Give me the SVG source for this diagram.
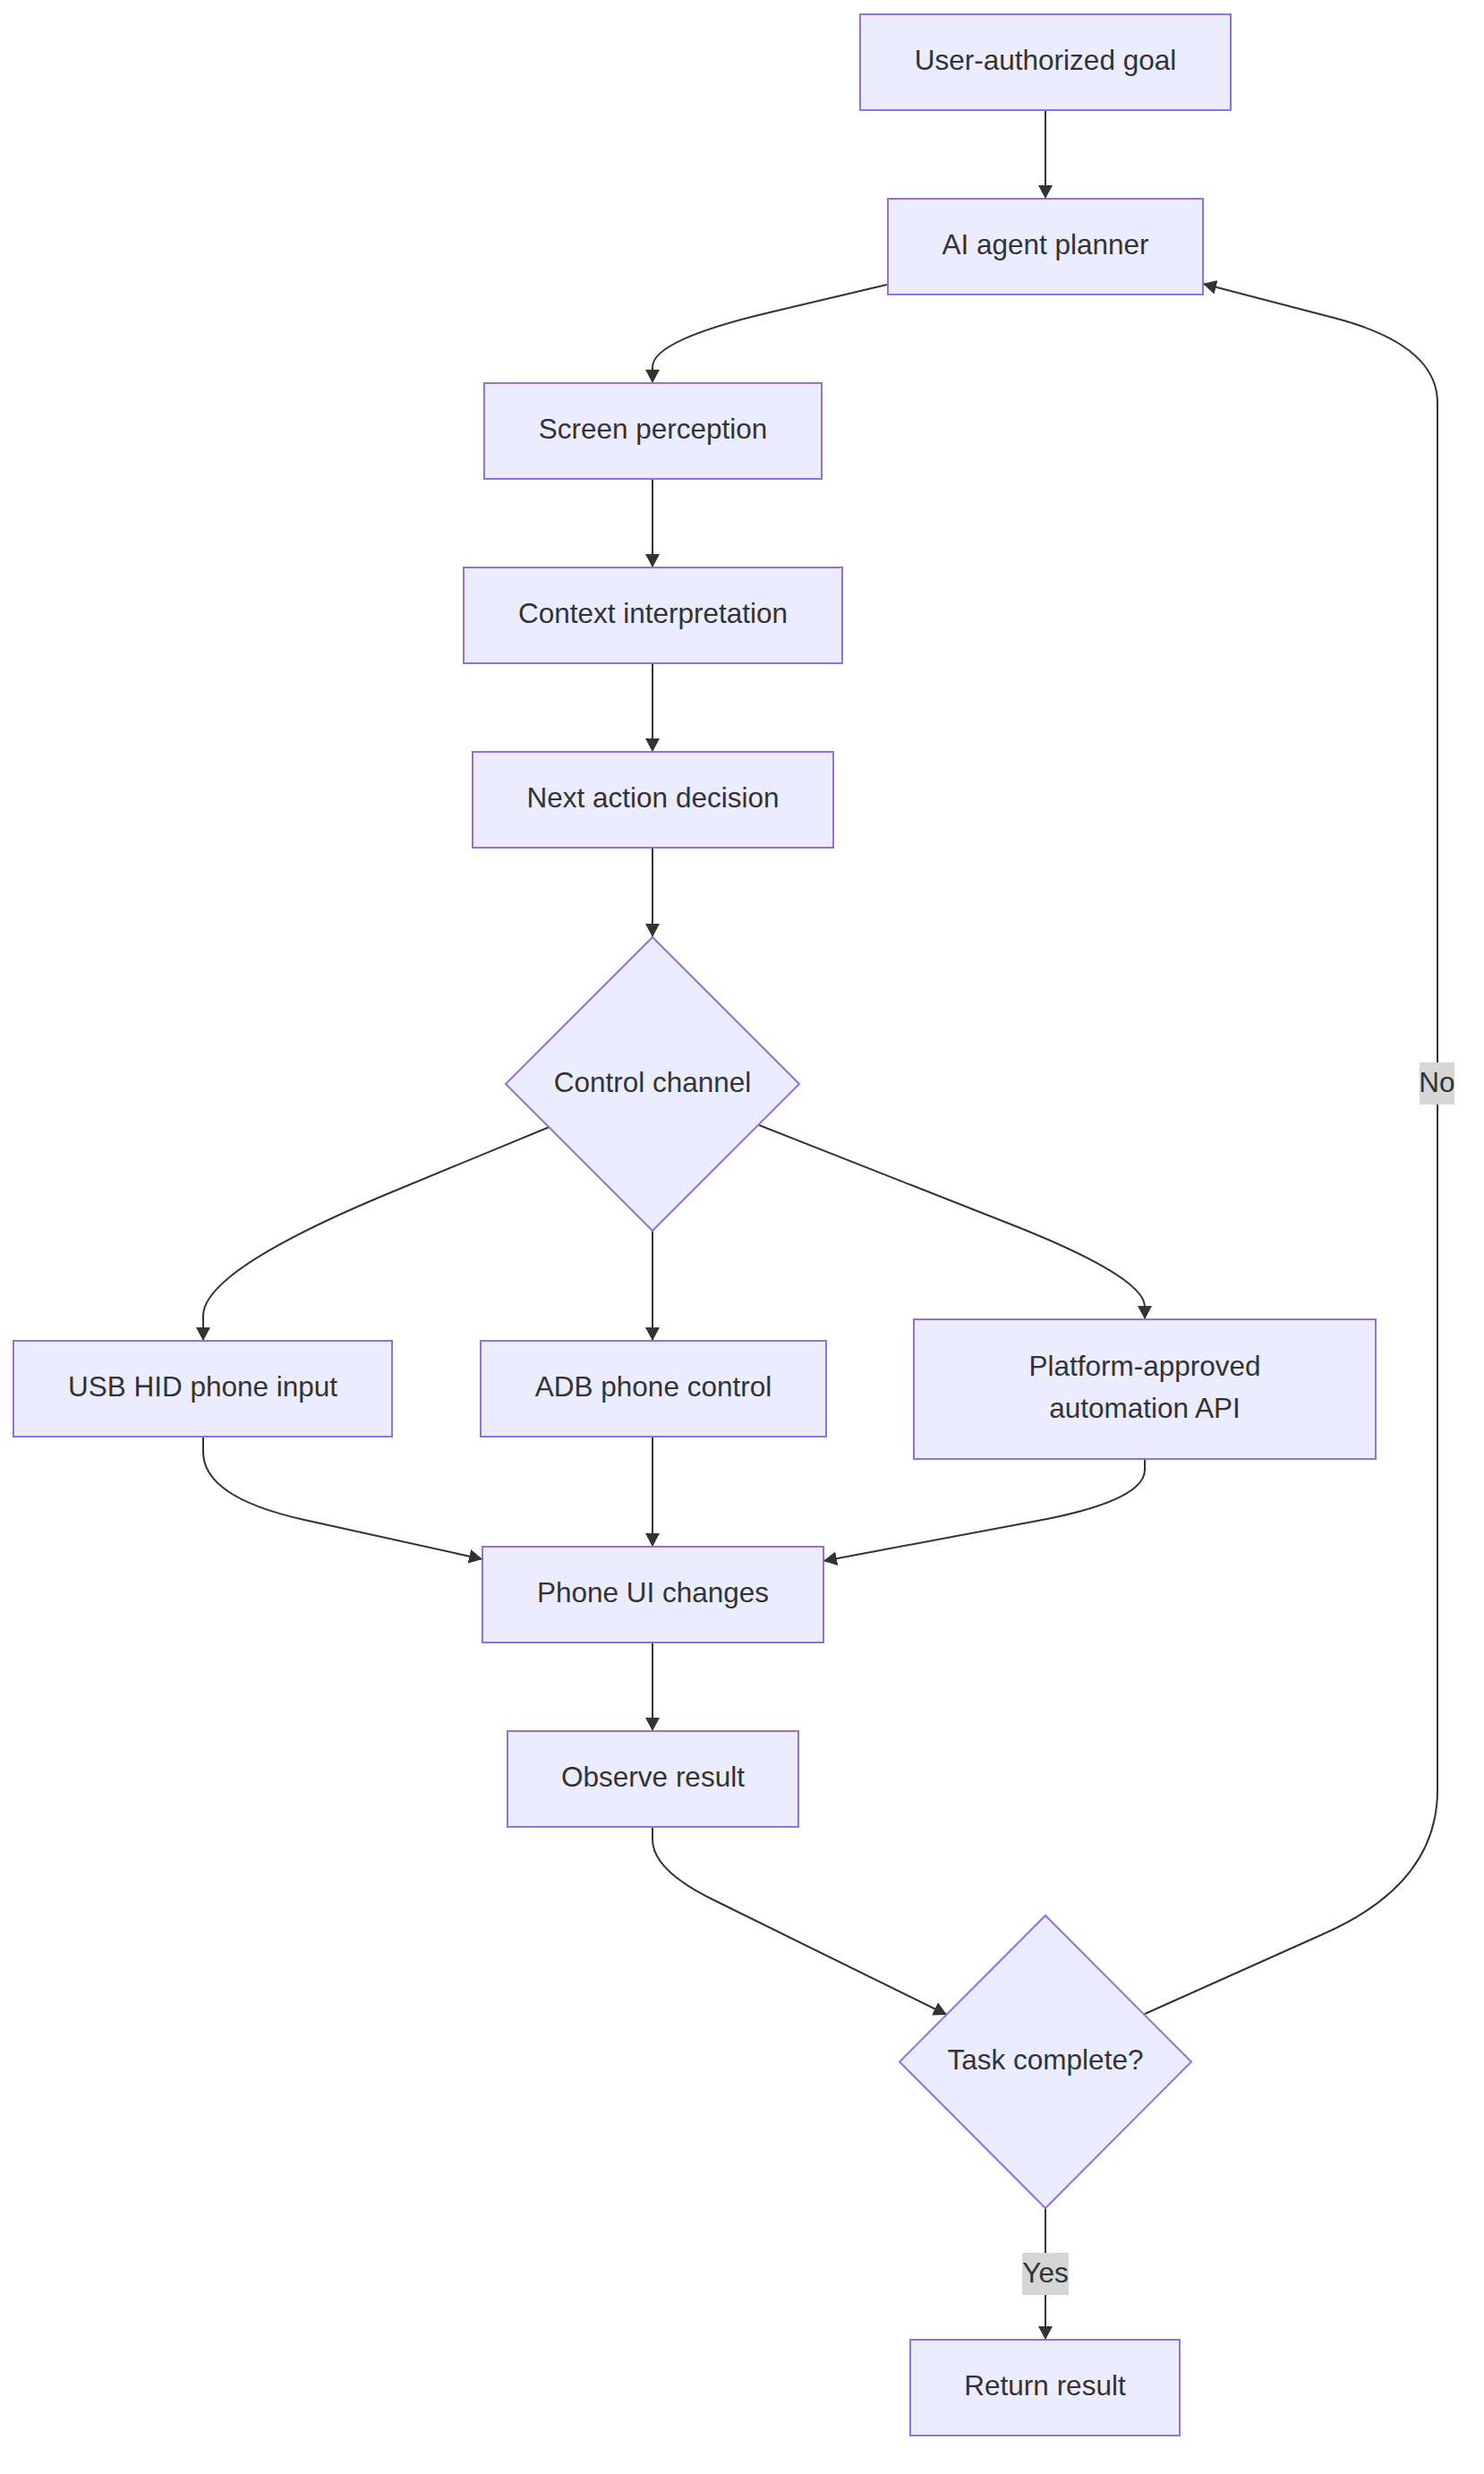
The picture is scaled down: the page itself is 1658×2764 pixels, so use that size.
<svg xmlns="http://www.w3.org/2000/svg" width="1658" height="2764" viewBox="0 0 1658 2764">
<style>
.node rect,.node polygon{fill:#ECECFF;stroke:#9370DB;stroke-width:2}
.node text,.lbl text{font-family:"Liberation Sans",Arial,sans-serif;font-size:31.5px;fill:#333333;text-anchor:middle}
.edge{fill:none;stroke:#333333;stroke-width:2;marker-end:url(#arr)}
.lbl rect{fill:#d6d6d6}
</style>
<defs>
<marker id="arr" markerUnits="userSpaceOnUse" markerWidth="16" markerHeight="16" refX="15" refY="8" orient="auto">
<path d="M0,0 L15,8 L0,16 z" fill="#333333"/>
</marker>
</defs>
<rect width="1658" height="2764" fill="#ffffff"/>
<g id="connectors">
<path class="edge" d="M1168,123 L1168,222"/>
<path class="edge" d="M991,318 L860,349 Q729,380 729,410 L729,428"/>
<path class="edge" d="M729,535 L729,634"/>
<path class="edge" d="M729,741 L729,840"/>
<path class="edge" d="M729,947 L729,1047"/>
<path class="edge" d="M614,1259 L430,1335 Q227,1420 227,1470 L227,1498"/>
<path class="edge" d="M729,1375 L729,1498"/>
<path class="edge" d="M848,1257 L1140,1372 Q1279,1428 1279,1460 L1279,1474"/>
<path class="edge" d="M227,1606 L227,1622 Q227,1673 340,1698 L539,1742"/>
<path class="edge" d="M729,1606 L729,1728"/>
<path class="edge" d="M1279,1630 L1279,1642 Q1279,1675 1170,1697 L920,1744"/>
<path class="edge" d="M729,1836 L729,1934"/>
<path class="edge" d="M729,2041 L729,2055 Q729,2090 800,2124 L1058,2251"/>
<path class="edge" d="M1168,2467 L1168,2614"/>
<path class="edge" d="M1279,2250 L1480,2160 Q1606,2104 1606,2000 L1606,450 Q1606,385 1490,355 L1344,317"/>
</g>
<g id="label-no" class="lbl"><rect x="1586" y="1187" width="39" height="47"/><text x="1605.5" y="1219.5">No</text></g>
<g id="label-yes" class="lbl"><rect x="1142" y="2517" width="52" height="47"/><text x="1168" y="2549.5">Yes</text></g>
<g id="goal" class="node"><rect x="961" y="16" width="414" height="107"/><text x="1168" y="78">User-authorized goal</text></g>
<g id="planner" class="node"><rect x="992" y="222" width="352" height="107"/><text x="1168" y="284">AI agent planner</text></g>
<g id="perception" class="node"><rect x="541" y="428" width="377" height="107"/><text x="729.5" y="490">Screen perception</text></g>
<g id="context" class="node"><rect x="518" y="634" width="423" height="107"/><text x="729.5" y="696">Context interpretation</text></g>
<g id="decision" class="node"><rect x="528" y="840" width="403" height="107"/><text x="729.5" y="902">Next action decision</text></g>
<g id="channel" class="node"><polygon points="729,1047 893,1211 729,1375 565,1211"/><text x="729" y="1219.5">Control channel</text></g>
<g id="usb" class="node"><rect x="15" y="1498" width="423" height="107"/><text x="226.5" y="1560">USB HID phone input</text></g>
<g id="adb" class="node"><rect x="537" y="1498" width="386" height="107"/><text x="730" y="1560">ADB phone control</text></g>
<g id="api" class="node"><rect x="1021" y="1474" width="516" height="156"/><text x="1279" y="1537">Platform-approved</text><text x="1279" y="1584">automation API</text></g>
<g id="phoneui" class="node"><rect x="539" y="1728" width="381" height="107"/><text x="729.5" y="1790">Phone UI changes</text></g>
<g id="observe" class="node"><rect x="567" y="1934" width="325" height="107"/><text x="729.5" y="1996">Observe result</text></g>
<g id="complete" class="node"><polygon points="1168,2140 1331,2303.5 1168,2467 1005,2303.5"/><text x="1168" y="2312">Task complete?</text></g>
<g id="return" class="node"><rect x="1017" y="2614" width="301" height="107"/><text x="1167.5" y="2676">Return result</text></g>
</svg>
